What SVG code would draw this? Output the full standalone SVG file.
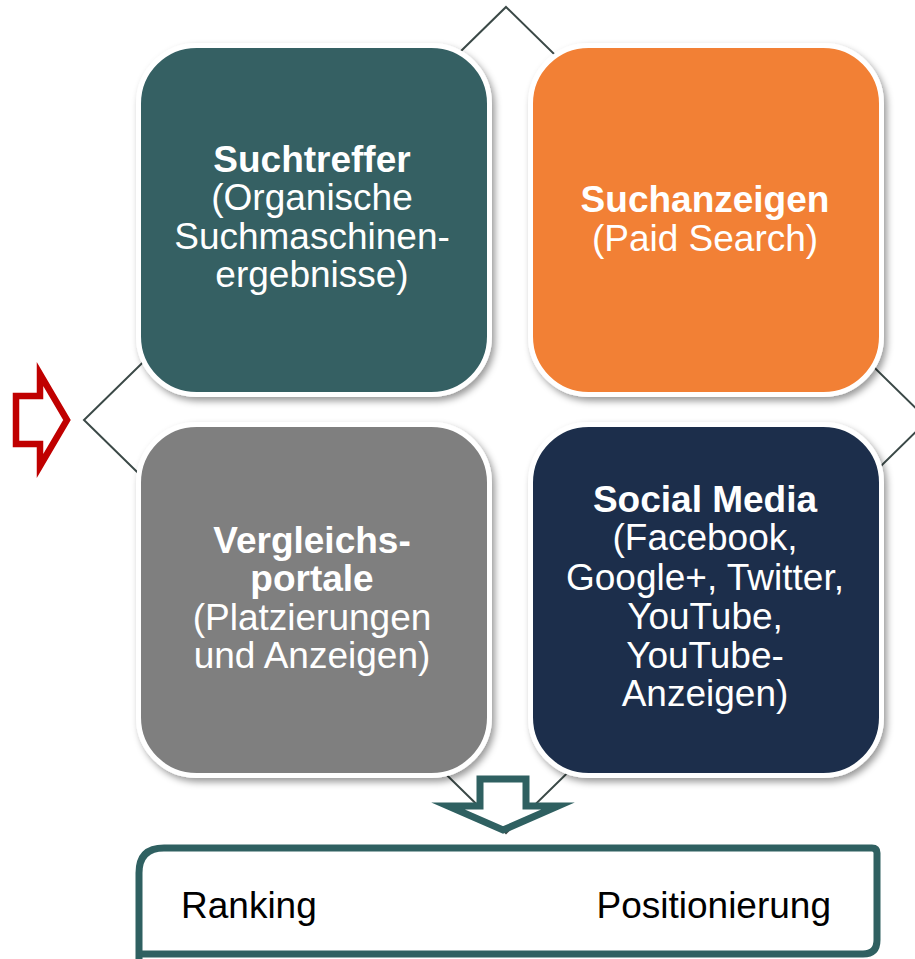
<svg xmlns="http://www.w3.org/2000/svg" width="915" height="959" viewBox="0 0 915 959">
<defs>
<filter id="sh" x="-10%" y="-10%" width="125%" height="125%">
<feDropShadow dx="3" dy="4" stdDeviation="3.5" flood-color="#000" flood-opacity="0.4"/>
</filter>
<style>
.box{stroke:#fff;stroke-width:5;filter:url(#sh)}
.t{font-family:"Liberation Sans",Arial,sans-serif;font-size:37px;fill:#fff;text-anchor:middle}
.b{font-weight:bold}
.k{font-family:"Liberation Sans",Arial,sans-serif;font-size:37px;fill:#000}
.conn{fill:none;stroke:#3b4947;stroke-width:2}
</style>
</defs>
<rect width="915" height="959" fill="#fff"/>
<g id="connectors">
<polygon class="conn" points="506,7 928,420 506,833 84,420"/>
</g>
<g id="suchtreffer">
<rect class="box" x="138.500" y="45.500" width="351" height="349" rx="58" fill="#356064"/>
<text class="t"><tspan class="b" x="312" y="172">Suchtreffer</tspan><tspan x="312" y="210">(Organische</tspan><tspan x="312" y="249">Suchmaschinen-</tspan><tspan x="312" y="287">ergebnisse)</tspan></text>
</g>
<g id="suchanzeigen">
<rect class="box" x="530.500" y="45.500" width="351" height="349" rx="58" fill="#f28034"/>
<text class="t"><tspan class="b" x="705" y="212">Suchanzeigen</tspan><tspan x="705" y="251">(Paid Search)</tspan></text>
</g>
<g id="vergleichsportale">
<rect class="box" x="138.500" y="424.500" width="351" height="351" rx="58" fill="#7f7f7f"/>
<text class="t"><tspan class="b" x="312" y="553">Vergleichs-</tspan><tspan class="b" x="312" y="591">portale</tspan><tspan x="312" y="630">(Platzierungen</tspan><tspan x="312" y="668">und Anzeigen)</tspan></text>
</g>
<g id="socialmedia">
<rect class="box" x="530.500" y="424.500" width="351" height="351" rx="58" fill="#1c2f4b"/>
<text class="t"><tspan class="b" x="705" y="512">Social Media</tspan><tspan x="705" y="550">(Facebook,</tspan><tspan x="705" y="590">Google+, Twitter,</tspan><tspan x="705" y="629">YouTube,</tspan><tspan x="705" y="668">YouTube-</tspan><tspan x="705" y="706">Anzeigen)</tspan></text>
</g>
<g id="input-arrow">
<polygon points="16,396 40,396 40,374 67,420 40,466 40,444 16,444" fill="#fff" stroke="#c00000" stroke-width="6.500" stroke-miterlimit="10"/>
</g>
<g id="output-arrow">
<polygon points="480,779 526,779 526,806 558,806 503,830 448,806 480,806" fill="#fff" stroke="#2f6061" stroke-width="7" stroke-miterlimit="10"/>
</g>
<g id="ergebnis">
<path d="M139,959 V873 Q139,848 164,848 H872 Q877,848 877,853 V940 Q877,954 863,954 H139" fill="#fff" stroke="#2f6061" stroke-width="7"/>
<text class="k" x="181" y="918">Ranking</text>
<text class="k" x="831" y="918" text-anchor="end">Positionierung</text>
</g>
</svg>
